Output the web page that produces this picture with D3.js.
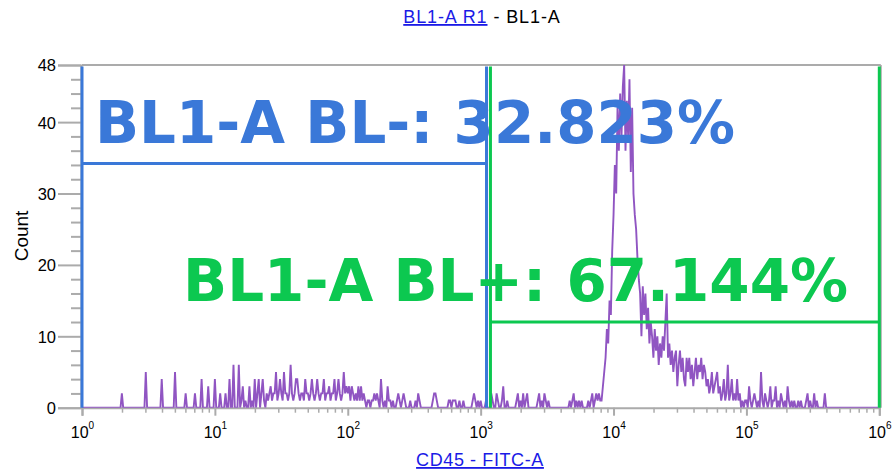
<!DOCTYPE html>
<html><head><meta charset="utf-8">
<script src="https://cdn.jsdelivr.net/npm/d3@7"></script>
<style>
html,body{margin:0;padding:0;background:#fff;}
svg{display:block;}
</style></head>
<body>
<svg id="c" width="892" height="474"></svg>
<script>
// ---- data ----
const titleLink = "BL1-A R1";
const titleRest = " - BL1-A";
const xLabel = "CD45 - FITC-A";
const yLabel = "Count";
const yMajorTicks = [0, 10, 20, 30, 40, 48];
const xDecades = [0, 1, 2, 3, 4, 5, 6];
// histogram counts, 100 bins per decade (log10 step 0.01)
const countsDecade0 = [
0,0,0,0,0,0,0,0,0,0, 0,0,0,0,0,0,0,0,0,0, 0,0,0,0,0,0,0,0,0,0,
2,0,0,0,0,0,0,0,0,0, 0,0,0,0,0,0,0,0,5,0, 0,0,0,0,0,0,0,0,0,0,
4,0,0,0,0,0,0,0,0,0, 5,0,0,0,0,0,0,0,2,0, 0,0,0,0,0,2,0,0,0,0,
4,0,0,0,0,3,0,0,0,0];
const countsDecade1 = [
4,0,0,0,2,0,0,0,2,0, 0,4,0,0,6,0,0,0,6,0, 1,3,0,1,0,0,3,0,1,0,
4,0,2,4,0,2,4,1,0,2, 1,2,3,1,2,2,5,1,2,4, 2,1,5,2,2,1,2,6,2,1,
2,4,4,2,1,2,2,1,4,2, 2,1,2,4,2,1,2,4,2,1, 2,2,4,1,2,2,3,1,2,2,
4,1,2,4,2,1,2,5,2,3];
const countsDecade2 = [
2,3,1,3,2,1,2,1,3,1, 3,1,2,1,0,1,1,0,1,1, 2,1,2,1,0,4,1,0,1,0,
3,1,1,0,1,0,0,1,2,1, 0,1,2,1,0,0,0,1,0,0, 0,1,0,2,1,0,0,0,0,0,
0,0,0,0,1,2,2,1,0,0, 0,0,0,0,0,0,1,1,0,1, 1,1,0,0,1,0,0,1,0,0,
0,0,0,0,1,2,1,0,1,0];
const countsDecade3 = [
1,0,0,0,1,0,0,0,2,1, 0,0,2,1,0,0,1,3,0,0, 1,0,0,0,0,0,0,1,2,0,
1,0,2,0,1,2,0,0,0,0, 0,0,0,1,2,0,1,0,2,1, 0,1,0,0,0,0,0,0,0,0,
0,0,0,0,0,0,0,1,0,1, 2,0,1,0,1,0,1,0,0,0, 0,1,0,1,2,0,1,2,1,2,
1,1,3,5,7,11,9,15,13,22];
const countsDecade4 = [
27,34,30,42,36,44,38,45,48,36, 43,38,46,33,42,30,27,25,21,18,
16,10,17,13,16,11,14,9,12,10, 7,11,8,10,6,9,7,10,8,12,
16,7,9,6,8,5,7,8,3,6, 8,5,7,4,3,7,5,7,4,6,
3,5,7,4,6,5,7,4,6,5, 3,4,2,3,5,2,3,4,5,2,
3,1,2,4,1,2,6,1,2,4, 1,2,1,4,1,2,0,1,0,1];
const countsDecade5 = [
1,0,3,1,0,1,2,1,0,1, 0,5,1,0,2,1,0,1,3,0, 1,1,3,0,1,0,2,1,0,1,
0,3,1,0,1,0,1,0,0,1, 0,1,0,0,0,1,2,0,1,0, 0,2,0,1,0,0,0,0,0,2,
0,0,0,0,0,0,0,0,0,0, 0,0,0,0,0,0,0,0,0,0, 0,0,0,0,0,0,0,0,0,0,
0,0,0,0,0,0,0,0,0,0];
// gates
const gateNeg = {label: "BL1-A BL-: 32.823%", x0: 1, x1: 1107, y: 34.2, top: 47.8};
const gatePos = {label: "BL1-A BL+: 67.144%", x0: 1185, x1: 1e6, y: 12.0, top: 47.8};

// ---- layout ----
const W = 892, H = 474;
const m = {left: 82, right: 12.7, top: 65, bottom: 66.3};
const svg = d3.select("#c");
const x = d3.scaleLog().domain([1, 1e6]).range([m.left, W - m.right]);
const y = d3.scaleLinear().domain([0, 48]).range([H - m.bottom, m.top]);
const gray = "#ababab";
const blue = "#3a78d8";
const green = "#0cc850";
const purple = "#9055c2";
const linkBlue = "#1a1ae6";

// frame (top and right border)
svg.append("line").attr("x1", x(1)).attr("x2", x(1e6)+1.5).attr("y1", y(48)).attr("y2", y(48))
  .attr("stroke", gray).attr("stroke-width", 2);
svg.append("line").attr("x1", x(1e6)+1.5).attr("x2", x(1e6)+1.5).attr("y1", y(48)).attr("y2", y(0))
  .attr("stroke", gray).attr("stroke-width", 2);

// y axis
const yAxis = d3.axisLeft(y).tickValues(yMajorTicks).tickSize(23).tickFormat(d3.format("d"));
const gy = svg.append("g").attr("transform", `translate(${m.left - 1},0)`).call(yAxis);
gy.select(".domain").attr("stroke", gray).attr("stroke-width", 2);
gy.selectAll(".tick line").attr("stroke", gray).attr("stroke-width", 2);
gy.selectAll(".tick text").attr("fill", "#000").attr("font-family", "Liberation Sans, Arial, sans-serif")
  .attr("font-size", 16.5).attr("dx", "1").attr("dy", "0.36em");
const yMinor = d3.range(0, 48, 2).filter(v => yMajorTicks.indexOf(v) < 0);
const gym = svg.append("g").attr("transform", `translate(${m.left - 1},0)`)
  .call(d3.axisLeft(y).tickValues(yMinor).tickSize(10).tickFormat(""));
gym.select(".domain").remove();
gym.selectAll(".tick line").attr("stroke", gray).attr("stroke-width", 2);

// x axis
const majors = xDecades.map(d => Math.pow(10, d));
const minors = [];
xDecades.slice(0, -1).forEach(d => { for (let k = 2; k <= 9; k++) minors.push(k * Math.pow(10, d)); });
const gxm = svg.append("g").attr("transform", `translate(0,${y(0)})`)
  .call(d3.axisBottom(x).tickValues(minors).tickSize(5).tickFormat(""));
gxm.select(".domain").remove();
gxm.selectAll(".tick line").attr("stroke", gray).attr("stroke-width", 1.5);
const gx = svg.append("g").attr("transform", `translate(0,${y(0)})`)
  .call(d3.axisBottom(x).tickValues(majors).tickSize(8).tickFormat(""));
gx.select(".domain").attr("stroke", gray).attr("stroke-width", 2);
gx.selectAll(".tick line").attr("stroke", gray).attr("stroke-width", 2);
gx.selectAll(".tick").append("text")
  .attr("y", 30).attr("text-anchor", "middle").attr("fill", "#000")
  .attr("font-family", "Liberation Sans, Arial, sans-serif").attr("font-size", 16)
  .each(function(d) {
    const t = d3.select(this);
    t.append("tspan").text("10");
    t.append("tspan").attr("font-size", 10).attr("dy", -9).text(Math.round(Math.log10(d)));
  });

// histogram
const allCounts = [countsDecade0, countsDecade1, countsDecade2, countsDecade3, countsDecade4, countsDecade5];
const pts = [];
allCounts.forEach((arr, d) => arr.forEach((c, i) => pts.push([Math.pow(10, d + i / 100), c])));
svg.append("clipPath").attr("id", "clip").append("rect")
  .attr("x", x(1)).attr("y", y(48)).attr("width", x(1e6) - x(1)).attr("height", y(0) - y(48));
svg.append("path").datum(pts)
  .attr("clip-path", "url(#clip)")
  .attr("fill", "none").attr("stroke", purple).attr("stroke-width", 1.9).attr("stroke-linejoin", "miter")
  .attr("d", d3.line().x(p => x(p[0])).y(p => y(p[1])));

// gates
function drawGate(g, col) {
  const path = d3.path();
  path.moveTo(x(g.x0), y(0)); path.lineTo(x(g.x0), y(g.top));
  path.moveTo(x(g.x0), y(g.y)); path.lineTo(x(g.x1), y(g.y));
  path.moveTo(x(g.x1), y(g.top)); path.lineTo(x(g.x1), y(0));
  svg.append("path").attr("d", path.toString()).attr("fill", "none")
    .attr("stroke", col).attr("stroke-width", 3);
}
drawGate(gateNeg, blue);
drawGate(gatePos, green);

// gate labels
svg.append("text").attr("x", 95).attr("y", 143)
  .attr("font-family", "DejaVu Sans, Verdana, sans-serif").attr("font-weight", "bold")
  .attr("font-size", 58).attr("fill", blue)
  .attr("textLength", 640).attr("lengthAdjust", "spacingAndGlyphs").text(gateNeg.label);
svg.append("text").attr("x", 183).attr("y", 301)
  .attr("font-family", "DejaVu Sans, Verdana, sans-serif").attr("font-weight", "bold")
  .attr("font-size", 58).attr("fill", green)
  .attr("textLength", 665).attr("lengthAdjust", "spacingAndGlyphs").text(gatePos.label);

// title
const tt = svg.append("text").attr("x", 482).attr("y", 23).attr("text-anchor", "middle")
  .attr("font-family", "Liberation Sans, Arial, sans-serif").attr("font-size", 18).attr("letter-spacing", 0.9);
tt.append("tspan").attr("fill", linkBlue).attr("text-decoration", "underline").text(titleLink);
tt.append("tspan").attr("fill", "#000").text(titleRest);

// x label
svg.append("text").attr("x", 480).attr("y", 466).attr("text-anchor", "middle")
  .attr("font-family", "Liberation Sans, Arial, sans-serif").attr("font-size", 18).attr("letter-spacing", 0.6)
  .attr("fill", linkBlue).attr("text-decoration", "underline").text(xLabel);

// y label
svg.append("text").attr("transform", "translate(28,236) rotate(-90)").attr("text-anchor", "middle")
  .attr("font-family", "Liberation Sans, Arial, sans-serif").attr("font-size", 19)
  .attr("fill", "#000").text(yLabel);
</script>
</body></html>
